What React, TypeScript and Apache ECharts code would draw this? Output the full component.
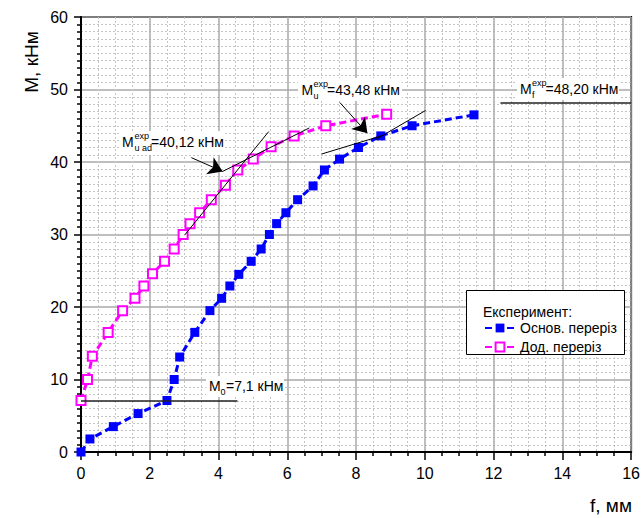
import React, { useEffect, useRef } from "react";
import * as echarts from "echarts";

// ---- Data ----
const baseDeflection = [0, 0.26, 0.94, 1.66, 2.5, 2.71, 2.87, 3.31, 3.75, 4.09, 4.33, 4.59, 4.95, 5.24, 5.48, 5.69, 5.96, 6.3, 6.75, 7.08, 7.52, 8.07, 8.72, 9.63, 11.43];
const baseMoment = [0, 1.8, 3.5, 5.3, 7.1, 10.0, 13.1, 16.5, 19.5, 21.2, 22.9, 24.5, 26.3, 28.0, 30.0, 31.5, 33.0, 34.8, 36.7, 38.9, 40.4, 42.0, 43.6, 45.0, 46.5];
const addDeflection = [0, 0.19, 0.33, 0.79, 1.21, 1.57, 1.83, 2.08, 2.43, 2.71, 2.97, 3.17, 3.45, 3.79, 4.2, 4.56, 5.01, 5.53, 6.2, 7.12, 8.89];
const addMoment = [7.1, 10.0, 13.2, 16.5, 19.5, 21.2, 22.9, 24.6, 26.3, 28.0, 30.0, 31.5, 33.0, 34.8, 36.8, 38.9, 40.4, 42.1, 43.6, 45.0, 46.6];

const seriesNames = ["Основ. переріз", "Дод. переріз"];
const legendTitle = "Експеримент:";
const xName = "f, мм";
const yName = "M, кНм";

// tangent lines (data coords)
const tangentLines = [
  [[3.01, 29.9], [5.46, 44.2]],
  [[4.12, 38.7], [6.64, 44.7]],
  [[7.0, 41.1], [8.8, 43.7]],
  [[8.57, 43.1], [10.02, 47.1]],
];
// arrows (data coords)
const arrowLines = [
  [[3.21, 40.6], [4.12, 38.7]],
  [[7.53, 48.2], [8.33, 43.96]],
];
// level lines M0 and Mf
const levelLines = [
  [[0, 7.1], [4.55, 7.1]],
  [[12.2, 48.2], [16, 48.2]],
];

const FONT = "'Liberation Sans', Arial, sans-serif";

function label(
  x: number,
  cy: number,
  sup: string,
  sub: string,
  rest: string,
  subX: number,
  restX: number,
  bg: [number, number, number, number]
) {
  const els: any[] = [
    {
      type: "rect",
      shape: { x: bg[0], y: bg[1], width: bg[2], height: bg[3] },
      style: { fill: "#fff" },
      z: 10,
    },
    {
      type: "text",
      x,
      y: cy,
      style: { text: "M", fontSize: 14, fontFamily: FONT, fill: "#000", align: "left", verticalAlign: "middle" },
      z: 11,
    },
    {
      type: "text",
      x: restX,
      y: cy,
      style: { text: rest, fontSize: 14, fontFamily: FONT, fill: "#000", align: "left", verticalAlign: "middle" },
      z: 11,
    },
  ];
  if (sup) {
    els.push({
      type: "text",
      x: subX,
      y: cy - 6,
      style: { text: sup, fontSize: 9, fontFamily: FONT, fill: "#000", align: "left", verticalAlign: "middle" },
      z: 11,
    });
  }
  if (sub) {
    els.push({
      type: "text",
      x: subX,
      y: cy + 6,
      style: { text: sub, fontSize: 9, fontFamily: FONT, fill: "#000", align: "left", verticalAlign: "middle" },
      z: 11,
    });
  }
  return els;
}

export default function App() {
  const ref = useRef<HTMLDivElement>(null);
  useEffect(() => {
    document.body.style.margin = "0";
    if (!ref.current) return;
    const chart = echarts.init(ref.current, undefined, { renderer: "svg" });

    const blackLine = { color: "#000", width: 1, type: "solid" };
    const markData: any[] = [
      ...tangentLines.map(([a, b]) => [
        { coord: a, symbol: "none", lineStyle: blackLine },
        { coord: b, symbol: "none" },
      ]),
      ...arrowLines.map(([a, b]) => [
        { coord: a, symbol: "none", lineStyle: blackLine },
        { coord: b, symbol: "arrow", symbolSize: 14 },
      ]),
      ...levelLines.map(([a, b]) => [
        { coord: a, symbol: "none", lineStyle: { color: "#222", width: 1.5, type: "solid" } },
        { coord: b, symbol: "none" },
      ]),
    ];

    const option: any = {
      animation: false,
      backgroundColor: "#fff",
      grid: {
        left: 81,
        right: 10,
        top: 17,
        bottom: 66,
        show: true,
        borderColor: "#000",
        borderWidth: 2,
        backgroundColor: "transparent",
      },
      xAxis: {
        type: "value",
        min: 0,
        max: 16,
        interval: 2,
        axisLine: { show: true, onZero: false, lineStyle: { color: "#000", width: 2 } },
        axisTick: { show: true, length: 8, lineStyle: { color: "#000", width: 1.5 } },
        minorTick: { show: true, splitNumber: 4, length: 4, lineStyle: { color: "#000", width: 1.5 } },
        splitLine: { show: true, lineStyle: { color: "#a8a8a8", width: 1.5 } },
        minorSplitLine: { show: true, lineStyle: { color: "#c4c4c4", width: 1, type: [2, 2] } },
        axisLabel: { fontSize: 16, color: "#000", margin: 13, fontFamily: FONT },
      },
      yAxis: {
        type: "value",
        min: 0,
        max: 60,
        interval: 10,
        axisLine: { show: true, onZero: false, lineStyle: { color: "#000", width: 2 } },
        axisTick: { show: true, length: 7, lineStyle: { color: "#000", width: 1.5 } },
        minorTick: { show: true, splitNumber: 10, length: 4, lineStyle: { color: "#000", width: 1.5 } },
        splitLine: { show: true, lineStyle: { color: "#a8a8a8", width: 1.5 } },
        minorSplitLine: { show: true, lineStyle: { color: "#c4c4c4", width: 1, type: [2, 2] } },
        axisLabel: { fontSize: 16, color: "#000", margin: 13, fontFamily: FONT },
      },
      legend: {
        orient: "vertical",
        left: 484,
        top: 321,
        padding: 0,
        itemWidth: 30,
        itemHeight: 11,
        itemGap: 5,
        selectedMode: false,
        z: 20,
        textStyle: { fontSize: 14, color: "#000", fontFamily: FONT },
        data: seriesNames,
      },
      series: [
        {
          name: seriesNames[0],
          type: "line",
          data: baseDeflection.map((x, i) => [x, baseMoment[i]]),
          symbol: "rect",
          symbolSize: 9,
          itemStyle: { color: "#0000ff" },
          lineStyle: { color: "#0000ff", width: 3, type: [7, 4] },
          z: 3,
          markLine: {
            silent: true,
            animation: false,
            label: { show: false },
            emphasis: { disabled: true },
            symbol: ["none", "none"],
            lineStyle: blackLine,
            data: markData,
          },
        },
        {
          name: seriesNames[1],
          type: "line",
          data: addDeflection.map((x, i) => [x, addMoment[i]]),
          symbol: "emptyRect",
          symbolSize: 9,
          itemStyle: { color: "#ff00ff", borderWidth: 1.5 },
          lineStyle: { color: "#ff00ff", width: 3, type: [7, 4] },
          z: 3,
        },
      ],
      graphic: [
        {
          type: "text",
          x: 31,
          y: 62,
          rotation: Math.PI / 2,
          style: { text: yName, fontSize: 19, fontFamily: FONT, fill: "#000", align: "center", verticalAlign: "middle" },
        },
        {
          type: "text",
          x: 611,
          y: 505,
          style: { text: xName, fontSize: 19, fontFamily: FONT, fill: "#000", align: "center", verticalAlign: "middle" },
        },
        // legend box
        {
          type: "rect",
          shape: { x: 466.5, y: 290.5, width: 158, height: 64 },
          style: { fill: "#fff", stroke: "#000", lineWidth: 1 },
          z: 10,
        },
        {
          type: "text",
          x: 483,
          y: 312,
          style: { text: legendTitle, fontSize: 14, fontFamily: FONT, fill: "#000", align: "left", verticalAlign: "middle" },
          z: 11,
        },
        ...label(122, 142, "exp", "u ad", "=40,12 кНм", 134.5, 151, [119, 131, 104, 24]),
        ...label(301.5, 90, "exp", "u", "=43,48 кНм", 313.5, 327, [298, 78, 104, 23]),
        ...label(520, 89, "exp", "f", "=48,20 кНм", 532, 545.5, [517, 78, 102, 22]),
        ...label(209, 386, "", "0", "=7,1 кНм", 220.5, 226, [206, 376, 78, 21]),
      ],
    };
    chart.setOption(option);
    return () => chart.dispose();
  }, []);
  return <div ref={ref} style={{ width: 643, height: 518 }} />;
}
